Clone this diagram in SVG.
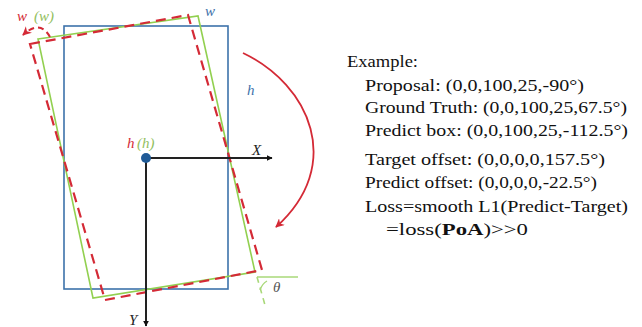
<svg xmlns="http://www.w3.org/2000/svg" width="642" height="327" viewBox="0 0 642 327">
<style>
.blue{fill:none;stroke:#3d72aa;stroke-width:1.6}
.green{fill:none;stroke:#92d050;stroke-width:1.6}
.red{fill:none;stroke:#d42a36;stroke-width:2.2;stroke-dasharray:10,6}
.axis{stroke:#222;stroke-width:2}
.lbl{font-style:italic;font-size:15px}
.txt{font-size:17.5px;fill:#111}
</style>
<defs>
<marker id="ah" viewBox="0 0 10 10" refX="9" refY="5" markerWidth="6" markerHeight="6" orient="auto" markerUnits="userSpaceOnUse"><path d="M0,0 L10,5 L0,10 z" fill="#111"/></marker>
<marker id="rh" viewBox="0 0 10 10" refX="9" refY="5" markerWidth="9" markerHeight="9" orient="auto" markerUnits="userSpaceOnUse"><path d="M0,0 L10,5 L0,10 L3,5 z" fill="#d42a36"/></marker>
</defs>
<g id="proposal"><rect class="blue" x="64" y="26" width="164" height="263"/></g>
<g id="groundtruth"><polygon class="green" points="38,39 198,16 255,272 93,298"/></g>
<g id="predict"><polygon class="red" points="30,44 188,15 262,270 105,300"/></g>
<g id="angle" font-family="Liberation Serif, Times New Roman, serif">
<line x1="257" y1="277" x2="298" y2="277" stroke="#a8d878" stroke-width="1.6"/>
<line x1="257" y1="277" x2="265" y2="305" stroke="#a8d878" stroke-width="1.6" stroke-dasharray="6,5"/>
<path d="M267,281 Q262,284 260,290" fill="none" stroke="#a8d878" stroke-width="1.4"/>
<text class="lbl" x="273" y="292" fill="#555">θ</text>
</g>
<g id="connectors">
<line class="axis" x1="146" y1="158" x2="272" y2="158" marker-end="url(#ah)"/>
<line class="axis" x1="146" y1="158" x2="146" y2="326" marker-end="url(#ah)"/>
<path d="M243,53 C310,85 345,165 276,227" fill="none" stroke="#d42a36" stroke-width="1.8" marker-end="url(#rh)"/>
<path d="M50,37 Q40,19 23,35" fill="none" stroke="#d42a36" stroke-width="2" stroke-dasharray="6,4" marker-end="url(#rh)"/>
</g>
<g id="center"><circle cx="146" cy="158" r="5" fill="#1f5a96"/></g>
<g id="labels" font-family="Liberation Serif, Times New Roman, serif">
<text class="lbl" x="17" y="21" fill="#d42a36">w</text>
<text class="lbl" x="34" y="21" fill="#92c060">(w)</text>
<text class="lbl" x="205" y="16" fill="#3d72aa">w</text>
<text class="lbl" x="247" y="95" fill="#3d72aa">h</text>
<text class="lbl" x="127" y="148" fill="#d42a36">h</text>
<text class="lbl" x="137" y="148" fill="#92c060">(h)</text>
<text class="lbl" x="252" y="155" fill="#222">X</text>
<text class="lbl" x="129" y="325" fill="#222">Y</text>
</g>
<g id="example" font-family="Liberation Serif, Times New Roman, serif">
<text class="txt" x="347" y="67" textLength="71" lengthAdjust="spacingAndGlyphs">Example:</text>
<text class="txt" x="365" y="91" textLength="219" lengthAdjust="spacingAndGlyphs">Proposal: (0,0,100,25,-90°)</text>
<text class="txt" x="365" y="113" textLength="262" lengthAdjust="spacingAndGlyphs">Ground Truth: (0,0,100,25,67.5°)</text>
<text class="txt" x="365" y="136" textLength="263" lengthAdjust="spacingAndGlyphs">Predict box: (0,0,100,25,-112.5°)</text>
<text class="txt" x="365" y="165" textLength="240" lengthAdjust="spacingAndGlyphs">Target offset: (0,0,0,0,157.5°)</text>
<text class="txt" x="365" y="188" textLength="232" lengthAdjust="spacingAndGlyphs">Predict offset: (0,0,0,0,-22.5°)</text>
<text class="txt" x="365" y="212" textLength="263" lengthAdjust="spacingAndGlyphs">Loss=smooth L1(Predict-Target)</text>
<text class="txt" x="386" y="235" textLength="142" lengthAdjust="spacingAndGlyphs">=loss(<tspan font-weight="bold">PoA</tspan>)&gt;&gt;0</text>
</g>
</svg>
